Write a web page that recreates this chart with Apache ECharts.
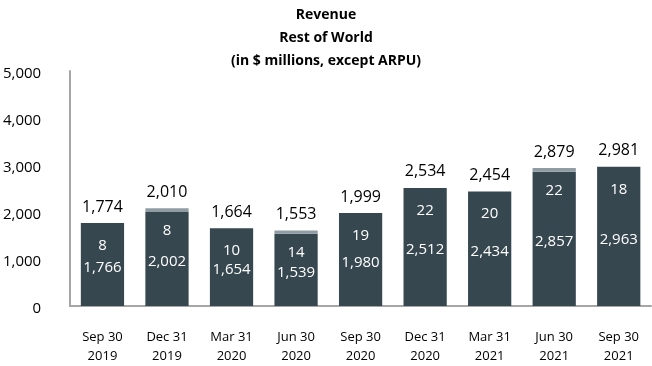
<!DOCTYPE html>
<html>
<head>
<meta charset="utf-8">
<script src="https://cdn.jsdelivr.net/npm/echarts@6/dist/echarts.min.js"></script>
<style>html,body{margin:0;padding:0;background:#fff;}#c{width:652px;height:366px;}</style>
</head>
<body>
<div id="c"></div>
<script>
const categories = ['Sep 30\n2019','Dec 31\n2019','Mar 31\n2020','Jun 30\n2020','Sep 30\n2020','Dec 31\n2020','Mar 31\n2021','Jun 30\n2021','Sep 30\n2021'];
const mainValues = [1766, 2002, 1654, 1539, 1980, 2512, 2434, 2857, 2963];
const otherValues = [8, 8, 10, 14, 19, 22, 20, 22, 18];
const totals = [1774, 2010, 1664, 1553, 1999, 2534, 2454, 2879, 2981];
// light band visible on top of some bars
const capBand = [0, 80, 0, 70, 0, 0, 0, 80, 0];
const yMin = 0, yMax = 5000, yStep = 1000;

const FONT = 'Open Sans';
const fmt = v => Number(v).toLocaleString('en-US');
const chart = echarts.init(document.getElementById('c'));
chart.setOption({
  animation: false,
  backgroundColor: '#fff',
  textStyle: { fontFamily: FONT },
  title: {
    text: 'Revenue\nRest of World\n(in $ millions, except ARPU)',
    left: 'center', top: -1,
    textStyle: { fontFamily: FONT, fontWeight: 'bold', fontSize: 14, lineHeight: 23, color: '#000' }
  },
  grid: { left: 65, right: 1, top: 71, bottom: 54 },
  xAxis: {
    type: 'category', data: categories,
    axisLine: { lineStyle: { color: '#a6a6a6', width: 2 } },
    axisTick: { show: false },
    axisLabel: { color: '#000', fontSize: 13, lineHeight: 19, margin: 22, fontFamily: FONT }
  },
  yAxis: {
    type: 'value', min: yMin, max: yMax, interval: yStep,
    axisLine: { show: true, lineStyle: { color: '#a6a6a6', width: 2 } },
    axisTick: { show: false },
    splitLine: { show: false },
    axisLabel: { color: '#000', fontSize: 15, margin: 29, verticalAlign: 'top', lineHeight: 6, formatter: v => fmt(v), fontFamily: FONT }
  },
  series: [
    {
      type: 'bar', stack: 't', data: mainValues, barWidth: '67%',
      itemStyle: { color: '#36474f' },
      label: { show: true, position: 'inside', offset: [0, 3], color: '#fff', fontSize: 15, formatter: p => fmt(p.value) }
    },
    {
      type: 'bar', stack: 't', data: capBand,
      itemStyle: { color: '#8f9ca4' },
      label: { show: true, position: 'insideTop', offset: [0, 10], color: '#fff', fontSize: 15, formatter: p => fmt(otherValues[p.dataIndex]) }
    },
    {
      type: 'bar', stack: 't', data: totals.map(() => 0),
      itemStyle: { color: 'transparent' },
      label: { show: true, position: 'top', distance: 8, color: '#000', fontSize: 16, formatter: p => fmt(totals[p.dataIndex]) }
    }
  ]
});
</script>
</body>
</html>
